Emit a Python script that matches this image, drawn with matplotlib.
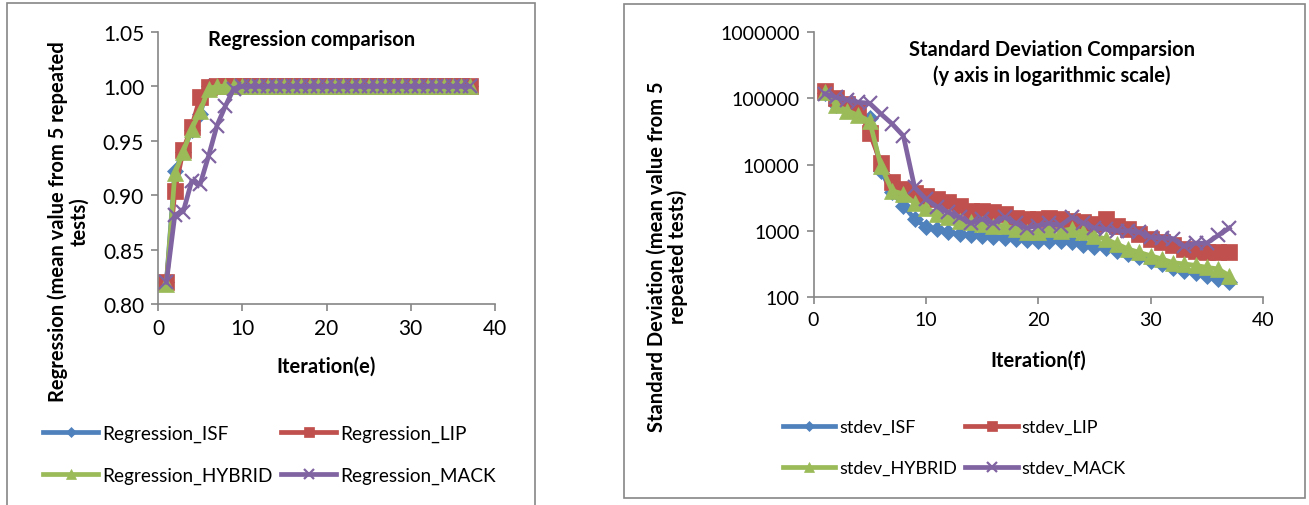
import numpy as np
import matplotlib
matplotlib.use('Agg')
import matplotlib.pyplot as plt
from matplotlib.patches import Rectangle

plt.rcParams['font.family'] = ['Lato', 'DejaVu Sans']

# iterations
it = list(range(1, 38))

# regression (mean of 5 repeated tests)
reg_isf = [0.82, 0.922, 0.94, 0.96, 0.975] + [1.0] * 32
reg_lip = [0.82, 0.904, 0.942, 0.963, 0.99, 0.999] + [1.0] * 31
reg_hyb = [0.818, 0.92, 0.94, 0.961, 0.977, 0.998] + [1.0] * 31
reg_mack = [0.82, 0.882, 0.885, 0.913, 0.91, 0.936, 0.964, 0.982, 0.998] + [1.0] * 28

# standard deviation (mean of 5 repeated tests)
sd_isf = [120000, 80000, 68000, 58000, 50000, 8000, 3800, 2400, 1500, 1150,
          1050, 950, 890, 860, 830, 800, 790, 760, 730, 710,
          690, 700, 680, 620, 570, 540, 500, 440, 400, 350,
          320, 270, 250, 230, 210, 185, 170]
sd_lip = [128000, 100000, 82000, 68000, 30000, 10500, 5500, 4200, 3700, 3300,
          3000, 2700, 2400, 2000, 2000, 1900, 1800, 1580, 1500, 1500,
          1580, 1500, 1420, 1350, 1270, 1500, 1200, 1060, 890, 750,
          670, 600, 530, 500, 470, 470, 470]
sd_hyb = [125000, 78000, 65000, 55000, 45000, 9500, 4000, 3600, 2600, 2200,
          1800, 1600, 1420, 1350, 1270, 1200, 1200, 1060, 950, 950,
          1060, 1000, 1060, 950, 840, 750, 630, 530, 470, 420,
          375, 330, 315, 300, 280, 265, 210]
sd_mack = [117000, 103000, 94000, 87000, 84000, 58000, 41000, 27000, 4500, 3000,
           2300, 1900, 1600, 1300, 1500, 1300, 1600, 1300, 1100, 1200,
           1300, 1200, 1600, 1300, 1100, 1050, 1000, 1000, 950, 800,
           780, 760, 580, 650, 650, 850, 1100]

blue = '#4F81BD'
red = '#C0504D'
green = '#9BBB59'
purple = '#8064A2'
spine = '#868686'

fig = plt.figure(figsize=(13.09, 5.06), dpi=100)

# panel frames
fig.patches.append(Rectangle((7 / 1309, -0.01), 528 / 1309, 1 - 4 / 506 + 0.01,
                             transform=fig.transFigure, fill=False,
                             edgecolor=spine, lw=1.2))
fig.patches.append(Rectangle((624 / 1309, 7 / 506), 681 / 1309, 494 / 506,
                             transform=fig.transFigure, fill=False,
                             edgecolor=spine, lw=1.2))


def style(ax, fs):
    for s in ['top', 'right']:
        ax.spines[s].set_visible(False)
    for s in ['left', 'bottom']:
        ax.spines[s].set_color(spine)
        ax.spines[s].set_linewidth(1.2)
    ax.tick_params(direction='out', length=5, width=1.2, color=spine,
                   labelsize=fs, pad=5)


def draw(ax, x, series, labels):
    marks = [('D', 8, blue), ('s', 11, red), ('^', 12, green), ('x', 10, purple)]
    lines = []
    for y, lab, (m, ms, c) in zip(series, labels, marks):
        ln, = ax.plot(x, y, color=c, lw=3.4, marker=m, markersize=ms,
                      markeredgewidth=1.6 if m == 'x' else 0.5,
                      markeredgecolor=c, label=lab)
        lines.append(ln)
    return lines


def legend(ax, lines, x0, y0, fs, hl, ls):
    # row-major order: ISF, LIP / HYBRID, MACK
    order = [lines[0], lines[2], lines[1], lines[3]]
    ax.legend(order, [l.get_label() for l in order], loc='upper left',
              bbox_to_anchor=(x0, y0), bbox_transform=fig.transFigure,
              ncol=2, frameon=False, fontsize=fs, borderpad=0,
              borderaxespad=0, handlelength=hl, handletextpad=0.22,
              columnspacing=0.45, labelspacing=ls, markerscale=0.65)


# left: regression
ax1 = fig.add_axes([158 / 1309, 201 / 506, 337 / 1309, 272 / 506])
style(ax1, 15)
l1 = draw(ax1, it, [reg_isf, reg_lip, reg_hyb, reg_mack],
          ['Regression_ISF', 'Regression_LIP', 'Regression_HYBRID', 'Regression_MACK'])
ax1.set_xlim(0, 40)
ax1.set_ylim(0.80, 1.05)
ax1.set_xticks([0, 10, 20, 30, 40])
ax1.set_yticks([0.80, 0.85, 0.90, 0.95, 1.00, 1.05])
ax1.set_yticklabels(['%.2f' % v for v in [0.80, 0.85, 0.90, 0.95, 1.00, 1.05]])
ax1.text(0.457, 0.974, 'Regression comparison', transform=ax1.transAxes,
         ha='center', va='center', fontsize=14.5, fontweight='bold')
ax1.set_xlabel('Iteration(e)', fontsize=14.5, fontweight='bold')
ax1.xaxis.set_label_coords(0.5, -0.19)
ax1.set_ylabel('Regression (mean value from 5 repeated\ntests)', fontsize=14.5,
               fontweight='bold', linespacing=1.05)
ax1.yaxis.set_label_coords(-0.205, 0.305)
legend(ax1, l1, 43 / 1309, 0.158, 13.7, 2.9, 1.3)

# right: standard deviation
ax2 = fig.add_axes([813.5 / 1309, 208 / 506, 449.5 / 1309, 265 / 506])
style(ax2, 14)
l2 = draw(ax2, it, [sd_isf, sd_lip, sd_hyb, sd_mack],
          ['stdev_ISF', 'stdev_LIP', 'stdev_HYBRID', 'stdev_MACK'])
ax2.set_yscale('log')
ax2.set_xlim(0, 40)
ax2.set_ylim(100, 1000000)
ax2.set_xticks([0, 10, 20, 30, 40])
ax2.set_yticks([100, 1000, 10000, 100000, 1000000])
ax2.set_yticklabels(['100', '1000', '10000', '100000', '1000000'])
ax2.minorticks_off()
ax2.text(0.53, 0.887, 'Standard Deviation Comparsion\n(y axis in logarithmic scale)',
         transform=ax2.transAxes, ha='center', va='center', fontsize=14.5,
         fontweight='bold', linespacing=1.35)
ax2.set_xlabel('Iteration(f)', fontsize=14.5, fontweight='bold')
ax2.xaxis.set_label_coords(0.5, -0.2)
ax2.set_ylabel('Standard Deviation (mean value from 5\nrepeated tests)', fontsize=14.5,
               fontweight='bold', linespacing=1.05)
ax2.yaxis.set_label_coords(-0.279, 0.155)
legend(ax2, l2, 783 / 1309, 0.170, 13, 2.9, 1.4)

fig.savefig('out.png', dpi=100)
